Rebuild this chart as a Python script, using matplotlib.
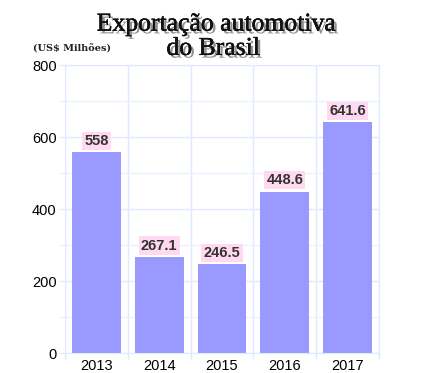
import matplotlib
matplotlib.use("Agg")
import matplotlib.pyplot as plt
import matplotlib.patheffects as pe

years = ["2013", "2014", "2015", "2016", "2017"]
values = [558, 267.1, 246.5, 448.6, 641.6]
value_labels = ["558", "267.1", "246.5", "448.6", "641.6"]
y_ticks = [0, 200, 400, 600, 800]
title_lines = ["Exportação automotiva", "do Brasil"]

fig = plt.figure(figsize=(4.24, 3.73), dpi=100)
ax = fig.add_axes([0.1533, 0.0536, 0.7406, 0.7721])

x = list(range(len(years)))
ax.bar(x, values, width=0.78, color="#9999ff", zorder=2)
ax.set_xlim(-0.5, len(years) - 0.5)
ax.set_ylim(0, 800)
ax.set_yticks(y_ticks)
ax.set_yticks([100, 300, 500, 700], minor=True)
ax.set_xticks(x)
ax.set_xticklabels(years)
ax.set_xticks([i - 0.5 for i in range(len(years) + 1)], minor=True)
ax.tick_params(axis="x", which="major", length=0, labelsize=10.5, pad=4)
ax.tick_params(axis="x", which="minor", length=4, color="#ddeaff", width=1)
ax.tick_params(axis="y", which="both", length=4, color="#ddeaff", labelsize=10.5, pad=2)
for lab in ax.get_xticklabels() + ax.get_yticklabels():
    lab.set_fontfamily("Liberation Sans")
ax.grid(True, which="major", axis="y", color="#ddeaff", lw=1, zorder=0)
ax.grid(True, which="minor", axis="y", color="#eaf2ff", lw=1, zorder=0)
ax.grid(True, which="minor", axis="x", color="#ddeaff", lw=1, zorder=0)
for s in ax.spines.values():
    s.set_color("#ddeaff")

for xi, v, t in zip(x, values, value_labels):
    ax.text(xi, v + 12, t, ha="center", va="bottom", fontsize=10.5,
            fontweight="bold", family="Liberation Sans", color="#333333",
            bbox=dict(boxstyle="square,pad=0.15", fc="#ffd9f0", ec="none"), zorder=3)

effects = [pe.withSimplePatchShadow(offset=(2, -2), shadow_rgbFace="#777777", alpha=0.8),
           pe.withStroke(linewidth=0.3, foreground="#111111")]
for line, (xc, yc) in zip(title_lines, [(0.511, 0.934), (0.503, 0.869)]):
    fig.text(xc, yc, line, ha="center", va="center", fontsize=18.5,
             family="Liberation Serif", color="#111111", path_effects=effects)
fig.text(0.078, 0.868, "(US$ Milhões)", ha="left", va="center", fontsize=7,
         family="DejaVu Serif", fontweight="bold", color="#222222")

fig.savefig("out.png", dpi=100)
